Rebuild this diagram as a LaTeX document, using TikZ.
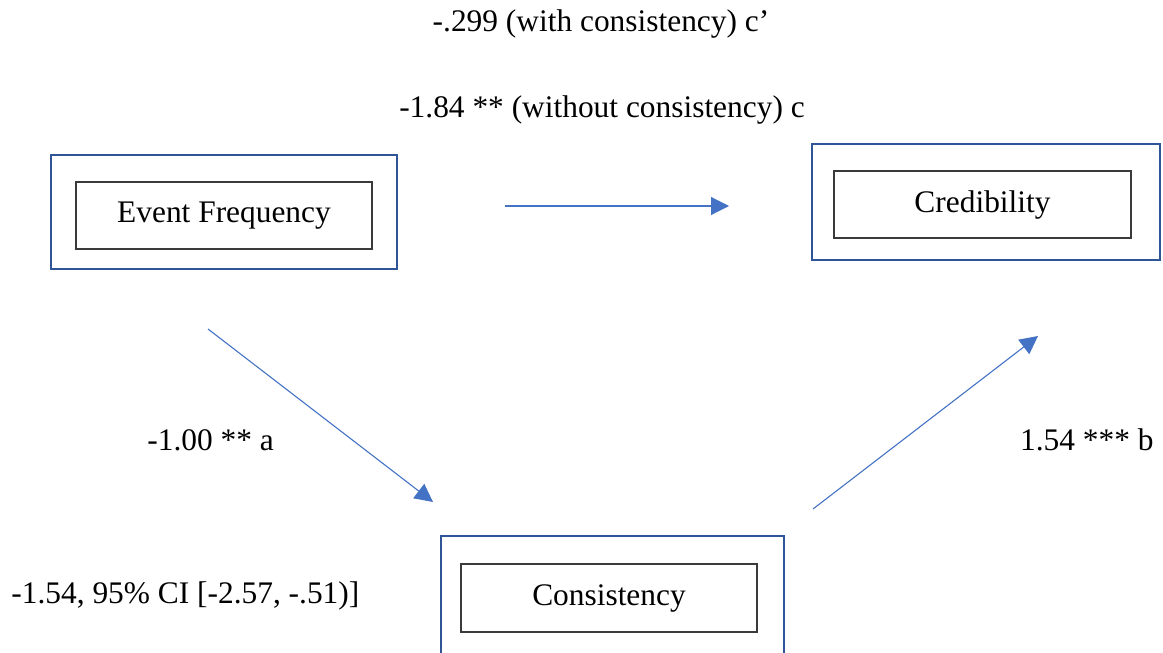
\documentclass[tikz,border=0pt]{standalone}
\usepackage{fontspec}
\setmainfont{Liberation Serif}
\usetikzlibrary{arrows.meta}
\definecolor{frameblue}{HTML}{2F5597}
\definecolor{arrowblue}{HTML}{4472C4}
\definecolor{innergray}{HTML}{3A3A3A}
\begin{document}
\begin{tikzpicture}[x=0.5pt,y=-0.5pt,
  every node/.style={font=\fontsize{15.7}{18}\selectfont, inner sep=0pt},
  outerbox/.style={draw=frameblue, line width=1.3pt, rectangle},
  innerbox/.style={draw=innergray, line width=0.6pt, rectangle},
  path/.style={draw=arrowblue, line width=0.55pt, -{Triangle[length=9pt,width=9pt]}},
  lbl/.style={anchor=center}]
\useasboundingbox (0,0) rectangle (1163,653);

% variable boxes: outer frame with an inner labelled box (sizes in pt, half the grid units)
\node[outerbox, minimum width=173pt, minimum height=57pt] (efo) at (224,212) {};
\node[innerbox, minimum width=148pt, minimum height=33.5pt] (ef) at (224,215.5) {Event Frequency};

\node[outerbox, minimum width=174pt, minimum height=58pt] (cro) at (986,202) {};
\node[innerbox, minimum width=148.5pt, minimum height=33.5pt] (cr) at (982.5,204.5) {Credibility};

\node[outerbox, minimum width=171.5pt, minimum height=59pt] (coo) at (612.5,595) {};
\node[innerbox, minimum width=148pt, minimum height=34pt] (co) at (609,598) {Consistency};

% path ends
\coordinate (cs) at (505,206);
\coordinate (ce) at (729,206);
\coordinate (as) at (208,329);
\coordinate (ae) at (433,502);
\coordinate (bs) at (813,509);
\coordinate (be) at (1038,336);

\draw[path] (cs) -- (ce);
\draw[path] (as) -- (ae);
\draw[path] (bs) -- (be);

% coefficients
\node[lbl] (tc1) at (601,24) {-.299 (with consistency) c’};
\node[lbl] (tc2) at (602,110) {-1.84 ** (without consistency) c};
\node[anchor=west] (ta) at (147,440) {-1.00 ** a};
\node[anchor=east] (tb) at (1154,440) {1.54 *** b};
\node[anchor=west] (tind) at (11,596) {-1.54, 95\% CI [-2.57, -.51)]};
\end{tikzpicture}
\end{document}
